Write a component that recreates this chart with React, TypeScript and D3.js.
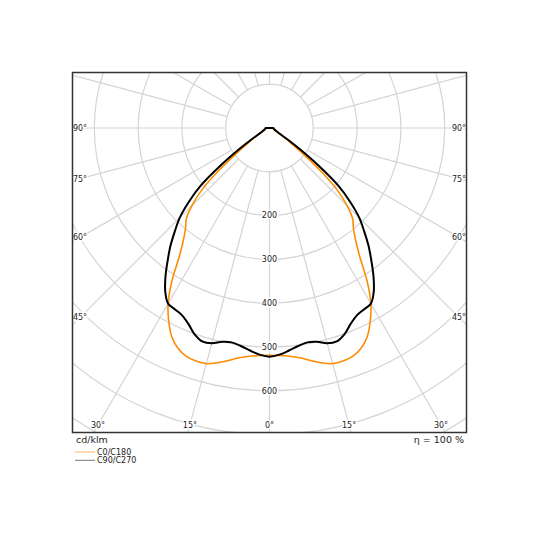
import React from 'react';
import * as d3 from 'd3';

// Polar luminous intensity diagram (cd/klm), gamma 0° pointing down.

const GAMMA = [
  0, 2.5, 5, 7.5, 10, 12.5, 15, 17.5, 20, 22.5, 25, 27.5, 30, 32.5, 35, 37.5, 40, 42.5,
  45, 47.5, 50, 52.5, 55, 57.5, 60, 62.5, 65, 67.5, 70, 72.5, 75, 77.5, 80, 82.5, 85, 87.5, 90,
];
const C0_C180 = [
  519, 520, 523, 529, 539, 549, 557, 558, 555, 545, 527, 498, 463, 415, 360, 323, 298, 281,
  250, 210, 152, 95, 60, 38, 25, 19, 15, 13, 12, 11, 10, 10, 9.5, 9, 9, 9, 9,
];
const C90_C270 = [
  522, 518, 510, 502, 497, 500, 509, 511, 501, 484, 472, 467, 463, 443, 414, 382, 352, 320,
  290, 250, 205, 140, 85, 50, 30, 22, 18, 16, 14, 12, 11, 10.5, 10, 9.5, 9, 9, 9,
];
const GRID_CIRCLES = [100, 200, 300, 400, 500, 600, 700, 800, 900];
const VALUE_TICKS = [200, 300, 400, 500, 600];
const ANGLE_TICKS = [-90, -75, -60, -45, -30, -15, 0, 15, 30, 45, 60, 75, 90];
const SERIES = [
  { label: 'C0/C180', values: C0_C180, color: '#ff8c00', width: 1.6 },
  { label: 'C90/C270', values: C90_C270, color: '#000000', width: 2 },
];

const W = 540;
const H = 540;
const frame = { x0: 72.5, y0: 72.5, x1: 466.5, y1: 432.5 };
const cx = (frame.x0 + frame.x1) / 2;
const cy = 128;
const FONT = 'DejaVu Sans, sans-serif';

const r = d3.scaleLinear().domain([0, 100]).range([0, 43.8]);
const rad = (deg: number) => (deg * Math.PI) / 180;

// screen point for gamma g on side s (-1 left, +1 right)
function pt(g: number, v: number, s: number): [number, number] {
  return [cx + s * r(v) * Math.sin(rad(g)), cy + r(v) * Math.cos(rad(g))];
}

// where a ray at signed angle a (0 = down) meets the label rectangle
function labelPos(a: number): [number, number] {
  const inset = { x0: 80, x1: 459, y1: 425 };
  const dx = Math.sin(rad(a));
  const dy = Math.cos(rad(a));
  let t = Infinity;
  if (dx < -1e-6) t = Math.min(t, (inset.x0 - cx) / dx);
  if (dx > 1e-6) t = Math.min(t, (inset.x1 - cx) / dx);
  if (dy > 1e-6) t = Math.min(t, (inset.y1 - cy) / dy);
  return [cx + dx * t, cy + dy * t];
}

const halo = { paintOrder: 'stroke' as const, stroke: 'white', strokeWidth: 3, strokeLinejoin: 'round' as const };

export default function App() {
  const line = d3.line<[number, number]>().curve(d3.curveCatmullRom);

  const rays = d3.range(0, 360, 15);

  return (
    <svg width={W} height={H} style={{ position: 'absolute', left: 0, top: 0, background: 'white' }}>
      <defs>
        <clipPath id="plot">
          <rect x={frame.x0} y={frame.y0} width={frame.x1 - frame.x0} height={frame.y1 - frame.y0} />
        </clipPath>
      </defs>

      <g clipPath="url(#plot)" stroke="#d4d4d4" strokeWidth={1.2} fill="none">
        {GRID_CIRCLES.map((v) => (
          <circle key={v} cx={cx} cy={cy} r={r(v)} />
        ))}
        {rays.map((a) => {
          const [x1, y1] = pt(a, 100, 1);
          const [x2, y2] = pt(a, 1200, 1);
          return <line key={a} x1={x1} y1={y1} x2={x2} y2={y2} />;
        })}
      </g>

      {VALUE_TICKS.map((v) => (
        <text key={v} x={cx} y={cy + r(v)} dy="0.35em" textAnchor="middle"
          fontFamily={FONT} fontSize={8} fill="#222" style={halo}>
          {v}
        </text>
      ))}

      {ANGLE_TICKS.map((a) => {
        const [x, y] = labelPos(a);
        return (
          <text key={a} x={x} y={y} dy="0.35em" textAnchor="middle"
            fontFamily={FONT} fontSize={8} fill="#222" style={halo}>
            {Math.abs(a)}°
          </text>
        );
      })}

      <g clipPath="url(#plot)" fill="none">
        {SERIES.map((s) => {
          const left = GAMMA.map((g, i) => pt(g, s.values[i], -1)).reverse();
          const right = GAMMA.map((g, i) => pt(g, s.values[i], 1)).slice(1);
          return (
            <path key={s.label} d={(line([...left, ...right]) ?? '') + 'Z'}
              stroke={s.color} strokeWidth={s.width} strokeLinejoin="round" />
          );
        })}
      </g>

      <rect x={frame.x0} y={frame.y0} width={frame.x1 - frame.x0} height={frame.y1 - frame.y0}
        fill="none" stroke="#333" strokeWidth={1.5} />

      <text x={76} y={443} fontFamily={FONT} fontSize={9.5} fill="#222">cd/klm</text>
      <text x={464} y={443} textAnchor="end" fontFamily={FONT} fontSize={9.5} fill="#222">η = 100 %</text>

      {SERIES.map((s, i) => (
        <g key={s.label} transform={`translate(75, ${452 + i * 8.3})`}>
          <line x1={0} x2={20} y1={0} y2={0} stroke={s.color} strokeOpacity={i === 0 ? 0.7 : 0.6} strokeWidth={0.9} />
          <text x={22} y={0} dy="0.35em" fontFamily={FONT} fontSize={8} fill="#222">{s.label}</text>
        </g>
      ))}
    </svg>
  );
}
